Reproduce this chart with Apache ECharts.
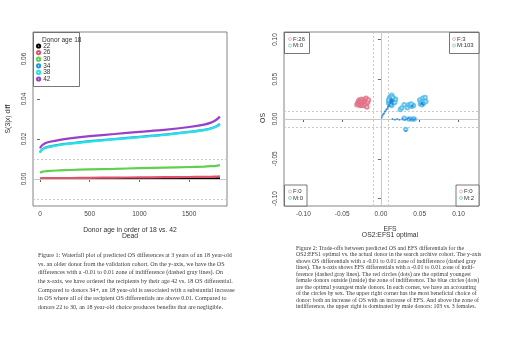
<!DOCTYPE html>
<html>
<head>
<meta charset="utf-8">
<script src="https://cdn.jsdelivr.net/npm/echarts@6/dist/echarts.min.js"></script>
<style>
  html, body { margin: 0; background: #fff; }
  #main { width: 520px; height: 351px; }
</style>
</head>
<body>
<div id="main"></div>
<script>
// ---- left panel: waterfall of S(3|x) differences ----
var rank = [1, 10, 30, 60, 100, 200, 300, 500, 750, 1000, 1250, 1500, 1650, 1720, 1770, 1810]
var ages = ['22', '26', '30', '34', '38', '42']
var age22 = [0.0001, 0.0001, 0.0001, 0.0001, 0.0001, 0.0001, 0.0001, 0.0002, 0.0002, 0.0002, 0.0002, 0.0002, 0.0002, 0.0002, 0.0003, 0.0003]
var age26 = [0.0003, 0.0003, 0.0004, 0.0004, 0.0004, 0.0005, 0.0005, 0.0006, 0.0007, 0.0008, 0.0009, 0.0010, 0.0011, 0.0011, 0.0012, 0.0013]
var age30 = [0.0031, 0.0034, 0.0037, 0.0039, 0.0041, 0.0043, 0.0045, 0.0048, 0.0051, 0.0054, 0.0057, 0.0060, 0.0062, 0.0064, 0.0066, 0.0069]
var age34 = [0.0133, 0.0142, 0.0151, 0.0158, 0.0163, 0.0172, 0.0178, 0.0189, 0.0200, 0.0211, 0.0222, 0.0236, 0.0246, 0.0254, 0.0263, 0.0275]
var age38 = [0.0131, 0.0140, 0.0149, 0.0156, 0.0161, 0.0170, 0.0176, 0.0187, 0.0198, 0.0209, 0.0220, 0.0234, 0.0244, 0.0252, 0.0261, 0.0272]
var age42 = [0.0153, 0.0162, 0.0172, 0.0180, 0.0186, 0.0196, 0.0203, 0.0214, 0.0225, 0.0236, 0.0246, 0.0260, 0.0272, 0.0282, 0.0295, 0.0312]
var leftXTicks = [0, 500, 1000, 1500]
var leftYTicks = [0, 0.02, 0.04, 0.06]

// ---- right panel: OS vs EFS trade-offs ----
var femaleCircles = [
  [-0.031, 0.018], [-0.030, 0.020], [-0.029, 0.022], [-0.028, 0.019], [-0.028, 0.024], [-0.027, 0.021],
  [-0.027, 0.017], [-0.026, 0.018], [-0.026, 0.023], [-0.025, 0.020], [-0.025, 0.025], [-0.024, 0.022],
  [-0.024, 0.017], [-0.023, 0.019], [-0.023, 0.021], [-0.022, 0.024], [-0.021, 0.020], [-0.021, 0.017],
  [-0.020, 0.022], [-0.020, 0.025], [-0.019, 0.026], [-0.019, 0.019], [-0.018, 0.015], [-0.018, 0.023],
  [-0.017, 0.021], [-0.016, 0.024], [0.013, 0.024], [0.015, 0.021], [0.012, 0.019]
]
var maleCircles = [
  [0.010, 0.020], [0.011, 0.023], [0.011, 0.026], [0.012, 0.018], [0.012, 0.028], [0.013, 0.021],
  [0.013, 0.025], [0.014, 0.030], [0.014, 0.017], [0.015, 0.023], [0.016, 0.026], [0.016, 0.020],
  [0.017, 0.024], [0.018, 0.021], [0.019, 0.025], [0.010, 0.024], [0.013, 0.019], [0.015, 0.027],
  [0.025, 0.012], [0.027, 0.014], [0.030, 0.018], [0.034, 0.014], [0.036, 0.018], [0.038, 0.017],
  [0.040, 0.016], [0.042, 0.017], [0.039, 0.019], [0.030, 0.001], [0.036, 0.000], [0.040, 0.000],
  [0.043, 0.000], [0.050, 0.024], [0.051, 0.019], [0.052, 0.021], [0.053, 0.018], [0.054, 0.026],
  [0.055, 0.020], [0.056, 0.023], [0.057, 0.027], [0.058, 0.022], [0.032, -0.013]
]
var maleDots = [
  [0.001, 0.002], [0.002, 0.004], [0.003, 0.006], [0.004, 0.007], [0.005, 0.009], [0.006, 0.010],
  [0.007, 0.012], [0.008, 0.013], [0.009, 0.015], [0.010, 0.016], [0.011, 0.018], [0.012, 0.020],
  [0.012, 0.022], [0.013, 0.020], [0.013, 0.023], [0.014, 0.021], [0.014, 0.024], [0.015, 0.022],
  [0.015, 0.019], [0.016, 0.023], [0.012, 0.024], [0.014, 0.025], [0.015, 0.000], [0.018, -0.001],
  [0.021, 0.000], [0.024, -0.001], [0.028, 0.000], [0.031, -0.001], [0.034, 0.000], [0.036, 0.001],
  [0.038, -0.001], [0.040, 0.000], [0.042, -0.001], [0.044, 0.000], [0.052, 0.019], [0.053, 0.020],
  [0.054, 0.019], [0.055, 0.018], [0.040, 0.016], [0.041, 0.017], [0.032, -0.015]
]
var cornerCounts = [
  ['F:26', 'M:0'], ['F:3', 'M:103'], ['F:0', 'M:0'], ['F:0', 'M:2']
]
var rightTicks = [-0.10, -0.05, 0, 0.05, 0.10]

var caption1 = [
  'Figure 1: Waterfall plot of predicted OS differences at 3 years of an 18 year-old',
  'vs. an older donor from the validation cohort. On the y-axis, we have the OS',
  'differences with a -0.01 to 0.01 zone of indifference (dashed gray lines). On',
  'the x-axis, we have ordered the recipients by their age 42 vs. 18 OS differential.',
  'Compared to donors 34+, an 18 year-old is associated with a substantial increase',
  'in OS where all of the recipient OS differentials are above 0.01. Compared to',
  'donors 22 to 30, an 18 year-old choice produces benefits that are negligible.'
]
var caption2 = [
  'Figure 2: Trade-offs between predicted OS and EFS differentials for the',
  'OS2:EFS1 optimal vs. the actual donor in the search archive cohort. The y-axis',
  'shows OS differentials with a -0.01 to 0.01 zone of indifference (dashed gray',
  'lines). The x-axis shows EFS differentials with a -0.01 to 0.01 zone of indif-',
  'ference (dashed gray lines). The red circles (dots) are the optimal youngest',
  'female donors outside (inside) the zone of indifference. The blue circles (dots)',
  'are the optimal youngest male donors. In each corner, we have an accounting',
  'of the circles by sex. The upper right corner has the most beneficial choice of',
  'donor: both an increase of OS with an increase of EFS. And above the zone of',
  'indifference, the upper right is dominated by male donors: 103 vs. 3 females.'
]

var ageColors = ['#000000', '#DF536B', '#61D04F', '#2297E6', '#28E2E5', '#9a3fc8']
var ageValues = [age22, age26, age30, age34, age38, age42]

var sans = 'Liberation Sans'
var serif = 'Liberation Serif'
var tickText = { fontSize: 6.5, fontFamily: sans, color: '#444' }

function zip(xs, ys) {
  return xs.map(function(x, i) { return [x, ys[i]] })
}

var gray = '#c8c8c8'
function refLine(axis, v, dashed) {
  var o = {}
  o[axis] = v
  o.lineStyle = { color: gray, width: 1, type: dashed ? [2, 2] : 'solid' }
  return o
}

var series = ageValues.map(function(vals, i) {
  return {
    name: ages[i],
    type: 'line',
    xAxisIndex: 0,
    yAxisIndex: 0,
    data: zip(rank, vals),
    showSymbol: false,
    smooth: 0.3,
    lineStyle: { color: ageColors[i], width: 2.2 },
    itemStyle: { color: ageColors[i] },
    silent: true,
    z: 3 + i
  }
})
series[0].markLine = {
  silent: true, symbol: 'none', label: { show: false },
  data: [refLine('yAxis', 0, false), refLine('yAxis', 0.01, true), refLine('yAxis', -0.01, true)]
}

series.push({
  name: 'female',
  type: 'scatter',
  xAxisIndex: 1,
  yAxisIndex: 1,
  data: femaleCircles,
  symbol: 'emptyCircle',
  symbolSize: 3.4,
  itemStyle: { color: '#e06f85', borderWidth: 0.6 },
  z: 4,
  markLine: {
    silent: true, symbol: 'none', label: { show: false },
    data: [
      refLine('yAxis', 0, false), refLine('xAxis', 0, false),
      refLine('yAxis', 0.01, true), refLine('yAxis', -0.01, true),
      refLine('xAxis', 0.01, true), refLine('xAxis', -0.01, true)
    ]
  }
})
series.push({
  name: 'maleCircles',
  type: 'scatter',
  xAxisIndex: 1,
  yAxisIndex: 1,
  data: maleCircles,
  symbol: 'emptyCircle',
  symbolSize: 3.4,
  itemStyle: { color: '#4ab8e8', borderWidth: 0.6 },
  z: 5
})
series.push({
  name: 'maleDots',
  type: 'scatter',
  xAxisIndex: 1,
  yAxisIndex: 1,
  data: maleDots,
  symbol: 'circle',
  symbolSize: 2,
  itemStyle: { color: '#2080d8' },
  z: 6
})

// graphic: axis titles, legend frames, captions
var graphics = []
function txt(x, y, s, opts) {
  var st = Object.assign({ text: s, fontSize: 6.8, fontFamily: sans, fill: '#333', align: 'center', verticalAlign: 'middle' }, opts || {})
  graphics.push({ type: 'text', x: x, y: y, rotation: st.rot || 0, style: st, z: 20 })
}
txt(130, 230, 'Donor age in order of 18 vs. 42')
txt(130, 236, 'Dead')
txt(390, 229, 'EFS')
txt(390, 235.5, 'OS2:EFS1 optimal')
txt(8, 119, 'S(3|x) diff', { rot: Math.PI / 2 })
txt(263, 118, 'OS', { rot: Math.PI / 2 })

// legend box of left panel
graphics.push({ type: 'rect', shape: { x: 33.5, y: 32.5, width: 46, height: 54 }, style: { fill: '#fff', stroke: '#555', lineWidth: 0.8 }, z: 15 })
txt(42, 40, 'Donor age 18', { align: 'left', fontSize: 6.5 })

// corner boxes of right panel
var corners = [
  { x: 284.5, y: 32.5, w: 25, mx: 290, tx: 293, ty: 39 },
  { x: 449.5, y: 32.5, w: 29.5, mx: 454, tx: 457, ty: 39 },
  { x: 284.5, y: 185, w: 22.5, mx: 290, tx: 293, ty: 191.5 },
  { x: 456, y: 185, w: 23, mx: 461, tx: 464, ty: 191.5 }
]
corners.forEach(function(c, i) {
  graphics.push({ type: 'rect', shape: { x: c.x, y: c.y, width: c.w, height: 21 }, style: { fill: '#fff', stroke: '#555', lineWidth: 0.8 }, z: 15 })
  graphics.push({ type: 'circle', shape: { cx: c.mx, cy: c.ty, r: 1.5 }, style: { fill: 'none', stroke: '#e39aaa', lineWidth: 0.7 }, z: 16 })
  graphics.push({ type: 'circle', shape: { cx: c.mx, cy: c.ty + 6.5, r: 1.5 }, style: { fill: 'none', stroke: '#6fc0b0', lineWidth: 0.7 }, z: 16 })
  txt(c.tx, c.ty, cornerCounts[i][0], { align: 'left', fontSize: 6 })
  txt(c.tx, c.ty + 6.5, cornerCounts[i][1], { align: 'left', fontSize: 6 })
})

caption1.forEach(function(line, i) {
  txt(38, 255.5 + i * 8.6, line, { align: 'left', fontFamily: serif, fontSize: 6.1, fill: '#3a3a3a' })
})
caption2.forEach(function(line, i) {
  txt(296, 248 + i * 6.55, line, { align: 'left', fontFamily: serif, fontSize: 5.85, fill: '#3a3a3a' })
})

function fmt2(v) { return v.toFixed(2) }
function fmtInt(v) { return String(v) }

var chartDom = document.getElementById('main')
var myChart = echarts.init(chartDom)
var option = {
  animation: false,
  backgroundColor: '#fff',
  grid: [
    { left: 33, top: 32, width: 194, height: 174, show: true, borderColor: '#666', borderWidth: 0.8, backgroundColor: 'transparent' },
    { left: 284, top: 32, width: 195, height: 174, show: true, borderColor: '#666', borderWidth: 0.8, backgroundColor: 'transparent' }
  ],
  legend: {
    data: ages,
    orient: 'vertical',
    left: 36,
    top: 42.5,
    padding: 0,
    icon: 'emptyCircle',
    itemWidth: 3.2,
    itemHeight: 3.2,
    itemGap: -0.4,
    selectedMode: false,
    itemStyle: { borderWidth: 0.7 },
    textStyle: { fontSize: 6.5, fontFamily: sans, color: '#333', padding: [0, 0, 0, -2] },
    z: 20
  },
  xAxis: [
    {
      type: 'value', gridIndex: 0, min: -70, max: 1881,
      axisLine: { show: false }, splitLine: { show: false },
      axisTick: { show: true, inside: false, length: 3, customValues: leftXTicks, lineStyle: { color: '#666' } },
      axisLabel: Object.assign({ customValues: leftXTicks, margin: 5, formatter: fmtInt }, tickText)
    },
    {
      type: 'value', gridIndex: 1, min: -0.125, max: 0.1265,
      axisLine: { show: false }, splitLine: { show: false },
      axisTick: { show: true, length: 3, customValues: rightTicks, lineStyle: { color: '#666' } },
      axisLabel: Object.assign({ customValues: rightTicks, margin: 5, formatter: fmt2 }, tickText)
    }
  ],
  yAxis: [
    {
      type: 'value', gridIndex: 0, min: -0.0135, max: 0.0735,
      axisLine: { show: false }, splitLine: { show: false },
      axisTick: { show: true, length: 3, customValues: leftYTicks, lineStyle: { color: '#666' } },
      axisLabel: Object.assign({ customValues: leftYTicks, margin: 5, rotate: 90, formatter: fmt2 }, tickText)
    },
    {
      type: 'value', gridIndex: 1, min: -0.1094, max: 0.1094,
      axisLine: { show: false }, splitLine: { show: false },
      axisTick: { show: true, length: 3, customValues: rightTicks, lineStyle: { color: '#666' } },
      axisLabel: Object.assign({ customValues: rightTicks, margin: 5, rotate: 90, formatter: fmt2 }, tickText)
    }
  ],
  graphic: graphics,
  series: series
}
option && myChart.setOption(option)
</script>
</body>
</html>
